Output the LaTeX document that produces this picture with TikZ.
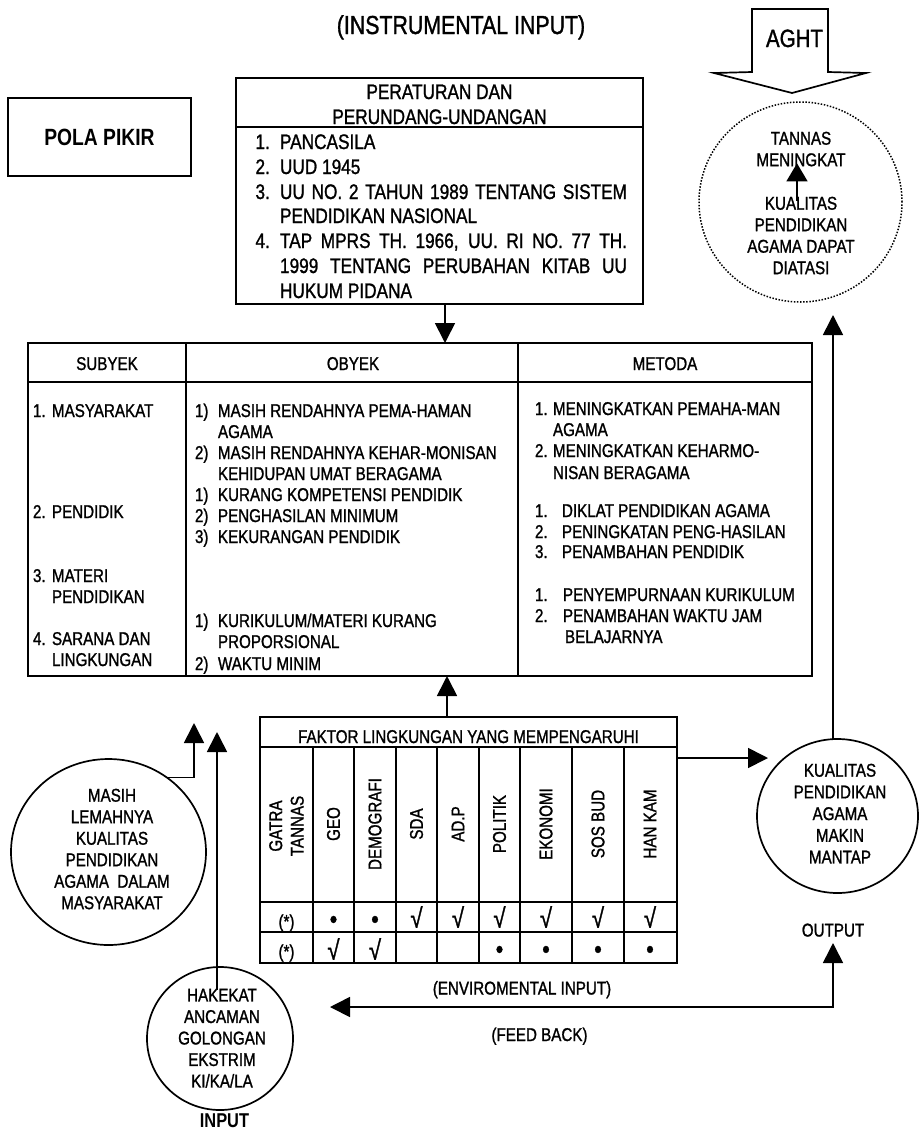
\documentclass[tikz,border=0pt]{standalone}
\usepackage{fontspec}
\setmainfont{Liberation Sans}[FakeStretch=0.82, UprightFeatures={FakeBold=1.2}]
\usetikzlibrary{arrows.meta,shapes.geometric}
\newcounter{lnc}
\tikzset{
  txt/.style={inner sep=0pt, outer sep=0pt, font=\fontsize{18.5}{21.5}\selectfont},
  big/.style={inner sep=0pt, outer sep=0pt, font=\fontsize{21}{25}\selectfont},
  box/.style={draw, line width=1.7pt, rectangle, inner sep=0pt, outer sep=0pt},
  circ/.style={draw, line width=1.7pt, ellipse, inner sep=0pt, outer sep=0pt},
  ln/.style={line width=1.7pt},
  arr/.style={line width=1.7pt, -{Triangle[width=20pt,length=20pt]}},
  arrboth/.style={line width=1.7pt, {Triangle[width=20pt,length=20pt]}-{Triangle[width=20pt,length=20pt]}},
  chk/.style={inner sep=0pt, outer sep=0pt, font=\fontsize{27}{30}\selectfont},
  dot/.style={inner sep=0pt, outer sep=0pt, font=\fontsize{26}{30}\selectfont},
}
\newcommand\Ln[4][txt]{\stepcounter{lnc}\node[#1,anchor=base west] (L\thelnc) at (#2,#3) {#4};}
\begin{document}
\begin{tikzpicture}[x=1pt,y=-1pt]
\useasboundingbox (0,0) rectangle (920,1133);
\fill[white] (0,0) rectangle (920,1133);

% title
\node[anchor=base, inner sep=0pt, font=\fontsize{26}{30}\selectfont] (title) at (461,34) {(INSTRUMENTAL INPUT)};

% POLA PIKIR
\node[box, minimum width=183pt, minimum height=78pt, font=\bfseries\fontsize{23.5}{27}\selectfont] (pola) at (99.5,137) {POLA PIKIR};

% PERATURAN box
\node[box, minimum width=407pt, minimum height=226pt] (pera) at (439.5,191) {};
\draw[ln] (236,127) -- (643,127);
\node[big, anchor=base] (perah1) at (439.5,99) {PERATURAN DAN};
\node[big, anchor=base] (perah2) at (439.5,124) {PERUNDANG-UNDANGAN};
\Ln[big]{255.5}{149}{\makebox[24.5pt][l]{1.}PANCASILA}
\Ln[big]{255.5}{174}{\makebox[24.5pt][l]{2.}UUD 1945}
\Ln[big]{255.5}{199}{\makebox[24.5pt][l]{3.}\makebox[347pt][s]{UU NO. 2 TAHUN 1989 TENTANG SISTEM}}
\Ln[big]{280}{223}{PENDIDIKAN NASIONAL}
\Ln[big]{255.5}{248}{\makebox[24.5pt][l]{4.}\makebox[347pt][s]{TAP MPRS TH. 1966, UU. RI NO. 77 TH.}}
\Ln[big]{280}{273}{\makebox[347pt][s]{1999 TENTANG PERUBAHAN KITAB UU}}
\Ln[big]{280}{298}{HUKUM PIDANA}

% AGHT arrow
\draw[line width=1.7pt, fill=white] (752,9) -- (828,9) -- (828,72) -- (866,73) -- (792,93) -- (714,73) -- (752,72) -- cycle;
\node[anchor=base, inner sep=0pt, font=\fontsize{25}{30}\selectfont] (aght) at (794.5,47) {AGHT};

% dotted circle
\node[circ, line width=1.5pt, dash pattern=on 1.5pt off 1.6pt, minimum width=203pt, minimum height=200pt] (tann) at (800.5,202) {};
\node[txt, align=center, anchor=north] (tan1) at (801,131.75) {TANNAS\\MENINGKAT};
\node[txt, align=center, anchor=north] (tan2) at (801,196.75) {KUALITAS\\PENDIDIKAN\\AGAMA DAPAT\\DIATASI};
\coordinate (xs) at (797,0);
\draw[line width=1.4pt, -{Triangle[width=21pt,length=18pt]}] ([yshift=-4pt]tan2.north -| xs) -- ([yshift=3pt]tan1.south -| xs);

% main table
\node[box, minimum width=784pt, minimum height=333pt] (tbl) at (420,509.5) {};
\draw[ln] (28,382) -- (812,382);
\draw[ln] (186,343) -- (186,676);
\draw[ln] (518,343) -- (518,676);
\node[txt, anchor=base] (hsub) at (107,370) {SUBYEK};
\node[txt, anchor=base] (hobj) at (353,370) {OBYEK};
\node[txt, anchor=base] (hmet) at (665,370) {METODA};

% subyek
\Ln{33}{417}{\makebox[19pt][l]{1.}MASYARAKAT}
\Ln{33}{518}{\makebox[19pt][l]{2.}PENDIDIK}
\Ln{33}{582}{\makebox[19pt][l]{3.}MATERI}
\Ln{52}{603}{PENDIDIKAN}
\Ln{33}{645}{\makebox[19pt][l]{4.}SARANA DAN}
\Ln{52}{666}{LINGKUNGAN}

% obyek
\Ln{195}{417}{\makebox[23pt][l]{1)}MASIH RENDAHNYA PEMA-HAMAN}
\Ln{218}{438}{AGAMA}
\Ln{195}{459}{\makebox[23pt][l]{2)}MASIH RENDAHNYA KEHAR-MONISAN}
\Ln{218}{480}{KEHIDUPAN UMAT BERAGAMA}
\Ln{195}{501}{\makebox[23pt][l]{1)}KURANG KOMPETENSI PENDIDIK}
\Ln{195}{522}{\makebox[23pt][l]{2)}PENGHASILAN MINIMUM}
\Ln{195}{543}{\makebox[23pt][l]{3)}KEKURANGAN PENDIDIK}
\Ln{195}{627}{\makebox[23pt][l]{1)}KURIKULUM/MATERI KURANG}
\Ln{218}{648}{PROPORSIONAL}
\Ln{195}{670}{\makebox[23pt][l]{2)}WAKTU MINIM}

% metoda
\Ln{535}{415}{\makebox[18pt][l]{1.}MENINGKATKAN PEMAHA-MAN}
\Ln{553}{436}{AGAMA}
\Ln{535}{457}{\makebox[18pt][l]{2.}MENINGKATKAN KEHARMO-}
\Ln{553}{479}{NISAN BERAGAMA}
\Ln{535}{517}{\makebox[27pt][l]{1.}DIKLAT PENDIDIKAN AGAMA}
\Ln{535}{538}{\makebox[27pt][l]{2.}PENINGKATAN PENG-HASILAN}
\Ln{535}{558}{\makebox[27pt][l]{3.}PENAMBAHAN PENDIDIK}
\Ln{535}{601}{\makebox[28pt][l]{1.}PENYEMPURNAAN KURIKULUM}
\Ln{535}{622}{\makebox[28pt][l]{2.}PENAMBAHAN WAKTU JAM}
\Ln{565}{643}{BELAJARNYA}

% arrow peraturan -> table
\coordinate (xa) at (445,0);
\draw[arr] (pera.south -| xa) -- (tbl.north -| xa);

% FAKTOR table
\node[box, minimum width=417pt, minimum height=246pt] (fak) at (468.5,840) {};
\draw[ln] (260,747) -- (677,747);
\draw[ln] (260,902) -- (677,902);
\draw[ln] (260,932) -- (677,932);
\foreach \x in {313,354,396,437,479,520,572,624} \draw[ln] (\x,747) -- (\x,963);
\node[txt, anchor=base] (fakh) at (468.5,743) {FAKTOR LINGKUNGAN YANG MEMPENGARUHI};
\node[txt, rotate=90, align=center] (cg) at (286.5,826) {GATRA\\TANNAS};
\node[txt, rotate=90] (c1) at (333.5,824) {GEO};
\node[txt, rotate=90] (c2) at (375,824) {DEMOGRAFI};
\node[txt, rotate=90] (c3) at (416.5,824) {SDA};
\node[txt, rotate=90] (c4) at (458,824) {AD.P};
\node[txt, rotate=90] (c5) at (499.5,824) {POLITIK};
\node[txt, rotate=90] (c6) at (546,824) {EKONOMI};
\node[txt, rotate=90] (c7) at (598,824) {SOS BUD};
\node[txt, rotate=90] (c8) at (650,824) {HAN KAM};
% row 1
\node[txt] (r1g) at (286.5,923) {(*)};
\node[dot] (r11) at (333.5,922) {•};
\node[dot] (r12) at (375,922) {•};
\node[chk] (r13) at (416.5,917) {√};
\node[chk] (r14) at (458,917) {√};
\node[chk] (r15) at (499.5,917) {√};
\node[chk] (r16) at (546,917) {√};
\node[chk] (r17) at (598,917) {√};
\node[chk] (r18) at (650,917) {√};
% row 2
\node[txt] (r2g) at (286.5,953) {(*)};
\node[chk] (r21) at (333.5,949) {√};
\node[chk] (r22) at (375,949) {√};
\node[dot] (r25) at (499.5,952) {•};
\node[dot] (r26) at (546,952) {•};
\node[dot] (r27) at (598,952) {•};
\node[dot] (r28) at (650,952) {•};

% arrow faktor -> table
\coordinate (xb) at (447,0);
\draw[arr] (fak.north -| xb) -- (tbl.south -| xb);

% KUALITAS circle
\node[circ, minimum width=161pt, minimum height=154pt] (kual) at (837.5,816) {};
\node[txt, font=\fontsize{18.5}{21.7}\selectfont, align=center, anchor=north] (kualt) at (840,763.75) {KUALITAS\\PENDIDIKAN\\AGAMA\\MAKIN\\MANTAP};
\coordinate (fk) at (768,758);
\draw[arr] (fak.east |- fk) -- (fk);
\coordinate (tk) at (833,315);
\draw[arr] (kual.north -| tk) -- (tk);

% OUTPUT and feedback
\node[txt, anchor=base] (outl) at (833,936.5) {OUTPUT};
\coordinate (fb) at (833,1007);
\coordinate (fbl) at (330,1007);
\coordinate (oa) at (833,943);
\draw[arrboth] (fbl) -- (fb) -- (oa);
\node[txt, anchor=base] (envl) at (522,994.5) {(ENVIROMENTAL INPUT)};
\node[txt, anchor=base] (fbk) at (539.5,1041) {(FEED BACK)};

% MASIH circle
\node[circ, minimum width=195pt, minimum height=186pt] (masih) at (108.5,852) {};
\node[txt, align=center, anchor=north] (masiht) at (112,788.75) {MASIH\\LEMAHNYA\\KUALITAS\\PENDIDIKAN\\AGAMA~~DALAM\\MASYARAKAT};
\coordinate (mtip) at (194,723);
\draw[arr] (masih.52) -| (mtip);

% HAKEKAT circle
\node[circ, minimum width=146pt, minimum height=143pt] (hak) at (220,1038.5) {};
\node[txt, align=center, anchor=north] (hakt) at (222,988.75) {HAKEKAT\\ANCAMAN\\GOLONGAN\\EKSTRIM\\KI/KA/LA};
\coordinate (hb) at (217,990);
\coordinate (ht) at (217,732);
\draw[arr] (hb) -- (ht);
\node[anchor=base, inner sep=0pt, font=\bfseries\fontsize{20}{24}\selectfont] (inl) at (224.5,1127) {INPUT};
\end{tikzpicture}
\end{document}
